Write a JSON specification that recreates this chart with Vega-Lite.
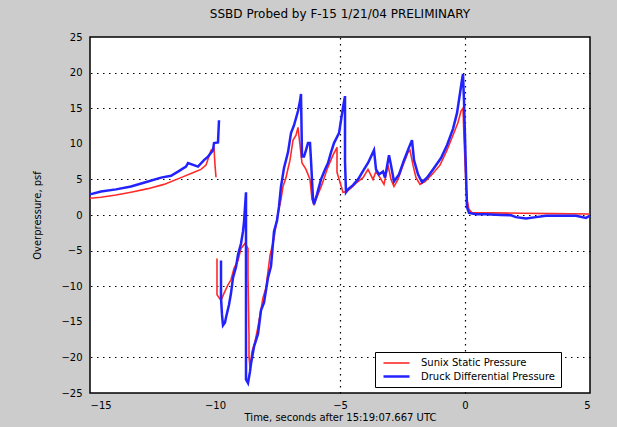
{
  "$schema": "https://vega.github.io/schema/vega-lite/v6.json",
  "width": 500,
  "height": 356,
  "autosize": {"type": "none"},
  "padding": {"left": 90, "top": 37, "right": 27, "bottom": 34},
  "background": "#cccccc",
  "config": {
    "font": "DejaVu Sans",
    "view": {"stroke": "black", "strokeWidth": 1.5, "fill": "white"},
    "axis": {"labelFont": "DejaVu Sans", "titleFont": "DejaVu Sans", "labelFontSize": 10, "titleFontSize": 10, "titleFontWeight": "normal", "labelColor": "black", "titleColor": "black", "tickColor": "black", "domainColor": "black"}
  },
  "title": {"text": "SSBD Probed by F-15 1/21/04 PRELIMINARY", "fontSize": 12, "fontWeight": "normal", "font": "DejaVu Sans", "color": "black", "offset": 11},
  "datasets": {
    "d": [
      {"series": "Sunix Static Pressure", "seg": 1, "x": -15, "y": 2.35},
      {"series": "Sunix Static Pressure", "seg": 1, "x": -14.56, "y": 2.5},
      {"series": "Sunix Static Pressure", "seg": 1, "x": -13.96, "y": 2.8},
      {"series": "Sunix Static Pressure", "seg": 1, "x": -13.36, "y": 3.2},
      {"series": "Sunix Static Pressure", "seg": 1, "x": -12.68, "y": 3.7},
      {"series": "Sunix Static Pressure", "seg": 1, "x": -12.04, "y": 4.3},
      {"series": "Sunix Static Pressure", "seg": 1, "x": -11.36, "y": 5.25},
      {"series": "Sunix Static Pressure", "seg": 1, "x": -10.84, "y": 6.0},
      {"series": "Sunix Static Pressure", "seg": 1, "x": -10.56, "y": 6.4},
      {"series": "Sunix Static Pressure", "seg": 1, "x": -10.36, "y": 7.0},
      {"series": "Sunix Static Pressure", "seg": 1, "x": -10.16, "y": 9.1},
      {"series": "Sunix Static Pressure", "seg": 1, "x": -10.04, "y": 9.4},
      {"series": "Sunix Static Pressure", "seg": 1, "x": -10.0, "y": 7.0},
      {"series": "Sunix Static Pressure", "seg": 1, "x": -9.96, "y": 5.3},
      {"series": "Sunix Static Pressure", "seg": 2, "x": -9.92, "y": -6.1},
      {"series": "Sunix Static Pressure", "seg": 2, "x": -9.92, "y": -11.2},
      {"series": "Sunix Static Pressure", "seg": 2, "x": -9.84, "y": -11.6},
      {"series": "Sunix Static Pressure", "seg": 2, "x": -9.76, "y": -12.0},
      {"series": "Sunix Static Pressure", "seg": 2, "x": -9.64, "y": -11.0},
      {"series": "Sunix Static Pressure", "seg": 2, "x": -9.48, "y": -9.8},
      {"series": "Sunix Static Pressure", "seg": 2, "x": -9.36, "y": -9.1},
      {"series": "Sunix Static Pressure", "seg": 2, "x": -9.24, "y": -7.5},
      {"series": "Sunix Static Pressure", "seg": 2, "x": -9.08, "y": -6.4},
      {"series": "Sunix Static Pressure", "seg": 2, "x": -8.96, "y": -4.7},
      {"series": "Sunix Static Pressure", "seg": 2, "x": -8.8, "y": -4.0},
      {"series": "Sunix Static Pressure", "seg": 2, "x": -8.68, "y": -4.7},
      {"series": "Sunix Static Pressure", "seg": 2, "x": -8.68, "y": -8.6},
      {"series": "Sunix Static Pressure", "seg": 2, "x": -8.64, "y": -17.1},
      {"series": "Sunix Static Pressure", "seg": 2, "x": -8.64, "y": -19.9},
      {"series": "Sunix Static Pressure", "seg": 2, "x": -8.6, "y": -21.5},
      {"series": "Sunix Static Pressure", "seg": 2, "x": -8.52, "y": -19.2},
      {"series": "Sunix Static Pressure", "seg": 2, "x": -8.4, "y": -17.8},
      {"series": "Sunix Static Pressure", "seg": 2, "x": -8.28, "y": -15.7},
      {"series": "Sunix Static Pressure", "seg": 2, "x": -8.08, "y": -11.6},
      {"series": "Sunix Static Pressure", "seg": 2, "x": -7.96, "y": -10.2},
      {"series": "Sunix Static Pressure", "seg": 2, "x": -7.8, "y": -5.7},
      {"series": "Sunix Static Pressure", "seg": 2, "x": -7.64, "y": -3.3},
      {"series": "Sunix Static Pressure", "seg": 2, "x": -7.52, "y": -0.5},
      {"series": "Sunix Static Pressure", "seg": 2, "x": -7.36, "y": 2.2},
      {"series": "Sunix Static Pressure", "seg": 2, "x": -7.28, "y": 4.0},
      {"series": "Sunix Static Pressure", "seg": 2, "x": -7.16, "y": 5.25},
      {"series": "Sunix Static Pressure", "seg": 2, "x": -7.12, "y": 5.9},
      {"series": "Sunix Static Pressure", "seg": 2, "x": -7.0, "y": 7.7},
      {"series": "Sunix Static Pressure", "seg": 2, "x": -6.88, "y": 10.5},
      {"series": "Sunix Static Pressure", "seg": 2, "x": -6.76, "y": 11.2},
      {"series": "Sunix Static Pressure", "seg": 2, "x": -6.68, "y": 12.3},
      {"series": "Sunix Static Pressure", "seg": 2, "x": -6.6, "y": 9.8},
      {"series": "Sunix Static Pressure", "seg": 2, "x": -6.52, "y": 7.3},
      {"series": "Sunix Static Pressure", "seg": 2, "x": -6.36, "y": 6.4},
      {"series": "Sunix Static Pressure", "seg": 2, "x": -6.2, "y": 5.0},
      {"series": "Sunix Static Pressure", "seg": 2, "x": -6.12, "y": 2.2},
      {"series": "Sunix Static Pressure", "seg": 2, "x": -6.04, "y": 1.5},
      {"series": "Sunix Static Pressure", "seg": 2, "x": -5.88, "y": 2.9},
      {"series": "Sunix Static Pressure", "seg": 2, "x": -5.72, "y": 4.3},
      {"series": "Sunix Static Pressure", "seg": 2, "x": -5.52, "y": 6.4},
      {"series": "Sunix Static Pressure", "seg": 2, "x": -5.28, "y": 8.4},
      {"series": "Sunix Static Pressure", "seg": 2, "x": -5.12, "y": 9.5},
      {"series": "Sunix Static Pressure", "seg": 2, "x": -5.12, "y": 6.0},
      {"series": "Sunix Static Pressure", "seg": 2, "x": -5.0, "y": 4.6},
      {"series": "Sunix Static Pressure", "seg": 2, "x": -4.88, "y": 3.2},
      {"series": "Sunix Static Pressure", "seg": 2, "x": -4.72, "y": 3.3},
      {"series": "Sunix Static Pressure", "seg": 2, "x": -4.52, "y": 3.9},
      {"series": "Sunix Static Pressure", "seg": 2, "x": -4.32, "y": 4.6},
      {"series": "Sunix Static Pressure", "seg": 2, "x": -4.08, "y": 5.25},
      {"series": "Sunix Static Pressure", "seg": 2, "x": -3.88, "y": 6.4},
      {"series": "Sunix Static Pressure", "seg": 2, "x": -3.68, "y": 5.0},
      {"series": "Sunix Static Pressure", "seg": 2, "x": -3.56, "y": 6.1},
      {"series": "Sunix Static Pressure", "seg": 2, "x": -3.4, "y": 5.25},
      {"series": "Sunix Static Pressure", "seg": 2, "x": -3.24, "y": 4.3},
      {"series": "Sunix Static Pressure", "seg": 2, "x": -3.08, "y": 7.0},
      {"series": "Sunix Static Pressure", "seg": 2, "x": -2.96, "y": 5.0},
      {"series": "Sunix Static Pressure", "seg": 2, "x": -2.84, "y": 4.0},
      {"series": "Sunix Static Pressure", "seg": 2, "x": -2.68, "y": 5.0},
      {"series": "Sunix Static Pressure", "seg": 2, "x": -2.48, "y": 7.0},
      {"series": "Sunix Static Pressure", "seg": 2, "x": -2.28, "y": 8.8},
      {"series": "Sunix Static Pressure", "seg": 2, "x": -2.2, "y": 9.1},
      {"series": "Sunix Static Pressure", "seg": 2, "x": -2.08, "y": 7.0},
      {"series": "Sunix Static Pressure", "seg": 2, "x": -1.96, "y": 5.25},
      {"series": "Sunix Static Pressure", "seg": 2, "x": -1.8, "y": 4.3},
      {"series": "Sunix Static Pressure", "seg": 2, "x": -1.6, "y": 4.7},
      {"series": "Sunix Static Pressure", "seg": 2, "x": -1.32, "y": 5.7},
      {"series": "Sunix Static Pressure", "seg": 2, "x": -1.0, "y": 7.0},
      {"series": "Sunix Static Pressure", "seg": 2, "x": -0.72, "y": 9.1},
      {"series": "Sunix Static Pressure", "seg": 2, "x": -0.48, "y": 11.2},
      {"series": "Sunix Static Pressure", "seg": 2, "x": -0.28, "y": 13.0},
      {"series": "Sunix Static Pressure", "seg": 2, "x": -0.16, "y": 14.6},
      {"series": "Sunix Static Pressure", "seg": 2, "x": -0.08, "y": 15.0},
      {"series": "Sunix Static Pressure", "seg": 2, "x": -0.04, "y": 10.9},
      {"series": "Sunix Static Pressure", "seg": 2, "x": 0.04, "y": 4.0},
      {"series": "Sunix Static Pressure", "seg": 2, "x": 0.08, "y": 2.2},
      {"series": "Sunix Static Pressure", "seg": 2, "x": 0.16, "y": 0.8},
      {"series": "Sunix Static Pressure", "seg": 2, "x": 0.28, "y": 0.3},
      {"series": "Sunix Static Pressure", "seg": 2, "x": 1.08, "y": 0.3},
      {"series": "Sunix Static Pressure", "seg": 2, "x": 2.28, "y": 0.25},
      {"series": "Sunix Static Pressure", "seg": 2, "x": 3.48, "y": 0.2},
      {"series": "Sunix Static Pressure", "seg": 2, "x": 5.0, "y": 0.15},
      {"series": "Druck Differential Pressure", "seg": 1, "x": -15, "y": 2.9},
      {"series": "Druck Differential Pressure", "seg": 1, "x": -14.56, "y": 3.3},
      {"series": "Druck Differential Pressure", "seg": 1, "x": -13.96, "y": 3.6},
      {"series": "Druck Differential Pressure", "seg": 1, "x": -13.36, "y": 4.0},
      {"series": "Druck Differential Pressure", "seg": 1, "x": -12.68, "y": 4.7},
      {"series": "Druck Differential Pressure", "seg": 1, "x": -12.16, "y": 5.25},
      {"series": "Druck Differential Pressure", "seg": 1, "x": -11.76, "y": 5.5},
      {"series": "Druck Differential Pressure", "seg": 1, "x": -11.48, "y": 6.1},
      {"series": "Druck Differential Pressure", "seg": 1, "x": -11.16, "y": 6.8},
      {"series": "Druck Differential Pressure", "seg": 1, "x": -11.08, "y": 7.3},
      {"series": "Druck Differential Pressure", "seg": 1, "x": -10.68, "y": 6.8},
      {"series": "Druck Differential Pressure", "seg": 1, "x": -10.44, "y": 7.7},
      {"series": "Druck Differential Pressure", "seg": 1, "x": -10.28, "y": 8.2},
      {"series": "Druck Differential Pressure", "seg": 1, "x": -10.08, "y": 9.1},
      {"series": "Druck Differential Pressure", "seg": 1, "x": -10.04, "y": 10.1},
      {"series": "Druck Differential Pressure", "seg": 1, "x": -9.88, "y": 10.2},
      {"series": "Druck Differential Pressure", "seg": 1, "x": -9.84, "y": 13.3},
      {"series": "Druck Differential Pressure", "seg": 2, "x": -9.76, "y": -6.4},
      {"series": "Druck Differential Pressure", "seg": 2, "x": -9.76, "y": -11.6},
      {"series": "Druck Differential Pressure", "seg": 2, "x": -9.72, "y": -14.0},
      {"series": "Druck Differential Pressure", "seg": 2, "x": -9.68, "y": -15.5},
      {"series": "Druck Differential Pressure", "seg": 2, "x": -9.6, "y": -15.1},
      {"series": "Druck Differential Pressure", "seg": 2, "x": -9.56, "y": -14.4},
      {"series": "Druck Differential Pressure", "seg": 2, "x": -9.44, "y": -12.6},
      {"series": "Druck Differential Pressure", "seg": 2, "x": -9.36, "y": -11.0},
      {"series": "Druck Differential Pressure", "seg": 2, "x": -9.28, "y": -8.8},
      {"series": "Druck Differential Pressure", "seg": 2, "x": -9.16, "y": -7.3},
      {"series": "Druck Differential Pressure", "seg": 2, "x": -9.08, "y": -5.6},
      {"series": "Druck Differential Pressure", "seg": 2, "x": -8.96, "y": -4.0},
      {"series": "Druck Differential Pressure", "seg": 2, "x": -8.88, "y": -2.3},
      {"series": "Druck Differential Pressure", "seg": 2, "x": -8.84, "y": -1.0},
      {"series": "Druck Differential Pressure", "seg": 2, "x": -8.76, "y": 3.2},
      {"series": "Druck Differential Pressure", "seg": 2, "x": -8.76, "y": -23.1},
      {"series": "Druck Differential Pressure", "seg": 2, "x": -8.68, "y": -23.6},
      {"series": "Druck Differential Pressure", "seg": 2, "x": -8.6, "y": -22.0},
      {"series": "Druck Differential Pressure", "seg": 2, "x": -8.56, "y": -20.9},
      {"series": "Druck Differential Pressure", "seg": 2, "x": -8.44, "y": -18.5},
      {"series": "Druck Differential Pressure", "seg": 2, "x": -8.28, "y": -16.7},
      {"series": "Druck Differential Pressure", "seg": 2, "x": -8.16, "y": -13.4},
      {"series": "Druck Differential Pressure", "seg": 2, "x": -8.04, "y": -12.3},
      {"series": "Druck Differential Pressure", "seg": 2, "x": -7.88, "y": -8.8},
      {"series": "Druck Differential Pressure", "seg": 2, "x": -7.76, "y": -7.2},
      {"series": "Druck Differential Pressure", "seg": 2, "x": -7.64, "y": -2.3},
      {"series": "Druck Differential Pressure", "seg": 2, "x": -7.52, "y": -0.8},
      {"series": "Druck Differential Pressure", "seg": 2, "x": -7.44, "y": 1.2},
      {"series": "Druck Differential Pressure", "seg": 2, "x": -7.36, "y": 4.0},
      {"series": "Druck Differential Pressure", "seg": 2, "x": -7.24, "y": 6.6},
      {"series": "Druck Differential Pressure", "seg": 2, "x": -7.08, "y": 8.8},
      {"series": "Druck Differential Pressure", "seg": 2, "x": -6.96, "y": 11.5},
      {"series": "Druck Differential Pressure", "seg": 2, "x": -6.84, "y": 12.6},
      {"series": "Druck Differential Pressure", "seg": 2, "x": -6.68, "y": 14.6},
      {"series": "Druck Differential Pressure", "seg": 2, "x": -6.6, "y": 16.0},
      {"series": "Druck Differential Pressure", "seg": 2, "x": -6.56, "y": 17.0},
      {"series": "Druck Differential Pressure", "seg": 2, "x": -6.52, "y": 8.2},
      {"series": "Druck Differential Pressure", "seg": 2, "x": -6.44, "y": 8.2},
      {"series": "Druck Differential Pressure", "seg": 2, "x": -6.36, "y": 9.1},
      {"series": "Druck Differential Pressure", "seg": 2, "x": -6.28, "y": 10.1},
      {"series": "Druck Differential Pressure", "seg": 2, "x": -6.2, "y": 10.1},
      {"series": "Druck Differential Pressure", "seg": 2, "x": -6.16, "y": 7.7},
      {"series": "Druck Differential Pressure", "seg": 2, "x": -6.08, "y": 2.2},
      {"series": "Druck Differential Pressure", "seg": 2, "x": -6.04, "y": 1.5},
      {"series": "Druck Differential Pressure", "seg": 2, "x": -5.92, "y": 2.9},
      {"series": "Druck Differential Pressure", "seg": 2, "x": -5.76, "y": 5.0},
      {"series": "Druck Differential Pressure", "seg": 2, "x": -5.6, "y": 6.4},
      {"series": "Druck Differential Pressure", "seg": 2, "x": -5.48, "y": 7.3},
      {"series": "Druck Differential Pressure", "seg": 2, "x": -5.36, "y": 8.8},
      {"series": "Druck Differential Pressure", "seg": 2, "x": -5.24, "y": 10.1},
      {"series": "Druck Differential Pressure", "seg": 2, "x": -5.04, "y": 11.5},
      {"series": "Druck Differential Pressure", "seg": 2, "x": -4.88, "y": 15.1},
      {"series": "Druck Differential Pressure", "seg": 2, "x": -4.8, "y": 16.7},
      {"series": "Druck Differential Pressure", "seg": 2, "x": -4.8, "y": 7.5},
      {"series": "Druck Differential Pressure", "seg": 2, "x": -4.76, "y": 3.2},
      {"series": "Druck Differential Pressure", "seg": 2, "x": -4.68, "y": 3.6},
      {"series": "Druck Differential Pressure", "seg": 2, "x": -4.48, "y": 4.2},
      {"series": "Druck Differential Pressure", "seg": 2, "x": -4.28, "y": 5.0},
      {"series": "Druck Differential Pressure", "seg": 2, "x": -4.04, "y": 6.4},
      {"series": "Druck Differential Pressure", "seg": 2, "x": -3.88, "y": 7.3},
      {"series": "Druck Differential Pressure", "seg": 2, "x": -3.76, "y": 8.2},
      {"series": "Druck Differential Pressure", "seg": 2, "x": -3.64, "y": 9.1},
      {"series": "Druck Differential Pressure", "seg": 2, "x": -3.56, "y": 6.4},
      {"series": "Druck Differential Pressure", "seg": 2, "x": -3.44, "y": 5.7},
      {"series": "Druck Differential Pressure", "seg": 2, "x": -3.28, "y": 6.1},
      {"series": "Druck Differential Pressure", "seg": 2, "x": -3.2, "y": 5.25},
      {"series": "Druck Differential Pressure", "seg": 2, "x": -3.04, "y": 8.4},
      {"series": "Druck Differential Pressure", "seg": 2, "x": -2.96, "y": 7.0},
      {"series": "Druck Differential Pressure", "seg": 2, "x": -2.84, "y": 4.7},
      {"series": "Druck Differential Pressure", "seg": 2, "x": -2.64, "y": 5.7},
      {"series": "Druck Differential Pressure", "seg": 2, "x": -2.44, "y": 7.7},
      {"series": "Druck Differential Pressure", "seg": 2, "x": -2.24, "y": 9.5},
      {"series": "Druck Differential Pressure", "seg": 2, "x": -2.12, "y": 10.5},
      {"series": "Druck Differential Pressure", "seg": 2, "x": -2.04, "y": 7.7},
      {"series": "Druck Differential Pressure", "seg": 2, "x": -1.88, "y": 5.7},
      {"series": "Druck Differential Pressure", "seg": 2, "x": -1.72, "y": 4.6},
      {"series": "Druck Differential Pressure", "seg": 2, "x": -1.52, "y": 5.25},
      {"series": "Druck Differential Pressure", "seg": 2, "x": -1.28, "y": 6.4},
      {"series": "Druck Differential Pressure", "seg": 2, "x": -0.96, "y": 8.0},
      {"series": "Druck Differential Pressure", "seg": 2, "x": -0.72, "y": 9.8},
      {"series": "Druck Differential Pressure", "seg": 2, "x": -0.48, "y": 12.1},
      {"series": "Druck Differential Pressure", "seg": 2, "x": -0.32, "y": 14.3},
      {"series": "Druck Differential Pressure", "seg": 2, "x": -0.2, "y": 17.1},
      {"series": "Druck Differential Pressure", "seg": 2, "x": -0.12, "y": 19.0},
      {"series": "Druck Differential Pressure", "seg": 2, "x": -0.08, "y": 19.8},
      {"series": "Druck Differential Pressure", "seg": 2, "x": -0.04, "y": 16.0},
      {"series": "Druck Differential Pressure", "seg": 2, "x": 0.04, "y": 5.9},
      {"series": "Druck Differential Pressure", "seg": 2, "x": 0.08, "y": 1.1},
      {"series": "Druck Differential Pressure", "seg": 2, "x": 0.16, "y": 0.3},
      {"series": "Druck Differential Pressure", "seg": 2, "x": 0.44, "y": 0.1},
      {"series": "Druck Differential Pressure", "seg": 2, "x": 0.84, "y": 0.1},
      {"series": "Druck Differential Pressure", "seg": 2, "x": 1.44, "y": 0.0},
      {"series": "Druck Differential Pressure", "seg": 2, "x": 1.84, "y": -0.05},
      {"series": "Druck Differential Pressure", "seg": 2, "x": 2.04, "y": -0.3},
      {"series": "Druck Differential Pressure", "seg": 2, "x": 2.44, "y": -0.5},
      {"series": "Druck Differential Pressure", "seg": 2, "x": 2.84, "y": -0.3},
      {"series": "Druck Differential Pressure", "seg": 2, "x": 3.24, "y": -0.1},
      {"series": "Druck Differential Pressure", "seg": 2, "x": 3.84, "y": -0.1},
      {"series": "Druck Differential Pressure", "seg": 2, "x": 4.44, "y": -0.1},
      {"series": "Druck Differential Pressure", "seg": 2, "x": 4.84, "y": -0.4},
      {"series": "Druck Differential Pressure", "seg": 2, "x": 5.0, "y": -0.1}
    ]
  },
  "data": {"name": "d"},
  "layer": [
    {
      "mark": {"type": "point", "opacity": 0},
      "encoding": {
        "x": {"field": "x", "type": "quantitative", "scale": {"domain": [-15, 5], "nice": false, "zero": false},
              "axis": {"orient": "top", "values": [-5, 0], "labels": false, "title": null, "domain": false, "ticks": false, "grid": true, "gridColor": "black", "gridDash": [1.5, 4.5], "gridWidth": 1.2, "gridOpacity": 1}},
        "y": {"field": "y", "type": "quantitative", "scale": {"domain": [-25, 25], "nice": false, "zero": false},
              "axis": {"orient": "right", "values": [20, 15, 5, 0, -5, -10, -20], "labels": false, "title": null, "domain": false, "ticks": false, "grid": true, "gridColor": "black", "gridDash": [1.5, 4.5], "gridWidth": 1.2, "gridOpacity": 1}}
      }
    },
    {
      "mark": {"type": "line", "interpolate": "linear"},
      "encoding": {
        "x": {"field": "x", "type": "quantitative",
              "axis": {"orient": "bottom", "values": [-15, -10, -5, 0, 5], "title": "Time, seconds after 15:19:07.667 UTC", "grid": false, "domain": false, "ticks": false, "labelPadding": 7, "titlePadding": 2}},
        "y": {"field": "y", "type": "quantitative",
              "axis": {"orient": "left", "values": [25, 20, 15, 10, 5, 0, -5, -10, -15, -20, -25], "title": "Overpressure, psf", "grid": false, "domain": false, "ticks": false, "labelPadding": 8, "titlePadding": 18}},
        "color": {"field": "series", "type": "nominal",
                  "scale": {"domain": ["Sunix Static Pressure", "Druck Differential Pressure"], "range": ["#ff2a2a", "#2222ff"]},
                  "legend": {"title": null, "orient": "none", "legendX": 285, "legendY": 315, "fillColor": "white", "strokeColor": "black", "padding": 5, "symbolType": "M-2.6,0H2.6", "symbolSize": 100, "symbolStrokeWidth": 1.5, "labelFontSize": 10, "labelFont": "DejaVu Sans", "labelColor": "black", "rowPadding": 2, "symbolOffset": 10, "labelOffset": 18}},
        "strokeWidth": {"field": "series", "type": "nominal", "scale": {"domain": ["Sunix Static Pressure", "Druck Differential Pressure"], "range": [1.6, 2.5]}, "legend": null},
        "detail": {"field": "seg", "type": "nominal"},
        "order": {"field": "x", "type": "quantitative"}
      }
    }
  ],
  "resolve": {"axis": {"x": "independent", "y": "independent"}}
}
